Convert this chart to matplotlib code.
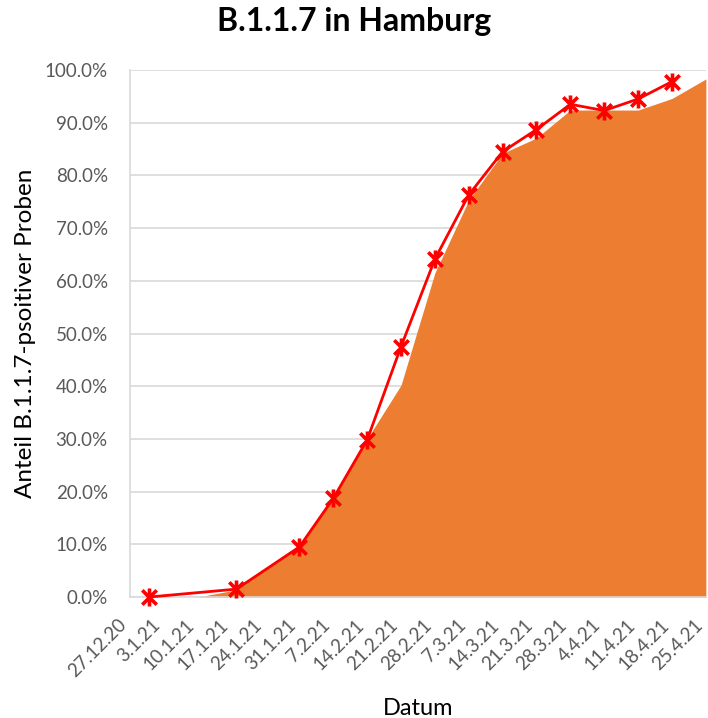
import pandas as pd
import matplotlib
matplotlib.use("Agg")
import matplotlib.pyplot as plt
import matplotlib.transforms as mtransforms
from matplotlib.path import Path
from matplotlib.ticker import PercentFormatter

# ---- data ----
tick_labels = ["27.12.20", "3.1.21", "10.1.21", "17.1.21", "24.1.21", "31.1.21",
               "7.2.21", "14.2.21", "21.2.21", "28.2.21", "7.3.21", "14.3.21",
               "21.3.21", "28.3.21", "4.4.21", "11.4.21", "18.4.21", "25.4.21"]
tick_dates = pd.to_datetime(tick_labels, format="%d.%m.%y")

area_dates = tick_dates
area_vals = [0.0, 0.0, 0.0, 1.2, 5.3, 9.6, 19.0, 30.0, 40.2, 61.5, 75.3, 84.2,
             87.1, 92.4, 92.4, 92.4, 94.6, 98.3]

line_dates = pd.to_datetime(["31.12.20", "18.1.21", "31.1.21", "7.2.21", "14.2.21",
                             "21.2.21", "28.2.21", "7.3.21", "14.3.21", "21.3.21",
                             "28.3.21", "4.4.21", "11.4.21", "18.4.21"], format="%d.%m.%y")
line_vals = [0.0, 1.5, 9.5, 18.7, 29.8, 47.5, 64.1, 76.3, 84.5, 88.7, 93.5, 92.3,
             94.5, 97.8]

ORANGE = "#ED7D31"
RED = "#FF0000"
GRID = "#D9D9D9"
TXT = "#595959"

plt.rcParams["font.family"] = ["Lato", "DejaVu Sans"]

# excel style star marker: an x with a vertical bar
star = Path([(-1, -1), (1, 1), (-1, 1), (1, -1), (0, -1.25), (0, 1.25)],
            [Path.MOVETO, Path.LINETO, Path.MOVETO, Path.LINETO, Path.MOVETO, Path.LINETO])

fig = plt.figure(figsize=(7.08, 7.18), dpi=100)
ax = fig.add_axes([0.1836, 0.1685, 0.8134, 0.734])

ax.fill_between(area_dates, area_vals, 0, color=ORANGE, lw=0, zorder=2)
ax.plot(line_dates, line_vals, color=RED, lw=2.0, marker=star, ms=13,
        mew=2.6, mec=RED, zorder=3, clip_on=False)

ax.set_xlim(tick_dates[0], tick_dates[-1])
ax.set_ylim(0, 100)
ax.set_yticks(range(0, 101, 10))
ax.yaxis.set_major_formatter(PercentFormatter(100, decimals=1))
ax.set_xticks(tick_dates)
ax.tick_params(length=0, labelsize=13.5, colors=TXT)
ax.tick_params(axis="y", pad=16)
ax.tick_params(axis="x", pad=18)
ax.set_xticklabels(tick_labels, rotation=45, ha="right", va="center",
                   rotation_mode="anchor")
# nudge the slanted date labels left so the last one stays inside
shift = mtransforms.ScaledTranslation(-6 / 100, 0, fig.dpi_scale_trans)
for lab in ax.get_xticklabels():
    lab.set_transform(lab.get_transform() + shift)
ax.grid(axis="y", color=GRID, lw=1.2, zorder=0)
ax.set_axisbelow(True)
for s in ["top", "right"]:
    ax.spines[s].set_visible(False)
for s in ["left", "bottom"]:
    ax.spines[s].set_color(GRID)
    ax.spines[s].set_linewidth(1.2)

ax.set_ylabel("Anteil B.1.1.7-psoitiver Proben", fontsize=17.5, color="black", labelpad=6)
ax.set_xlabel("Datum", fontsize=17, color="black", labelpad=13)
fig.suptitle("B.1.1.7 in Hamburg", fontsize=23, fontweight="bold", x=0.5, y=0.99)

fig.savefig("out.png", dpi=100, facecolor="white")
